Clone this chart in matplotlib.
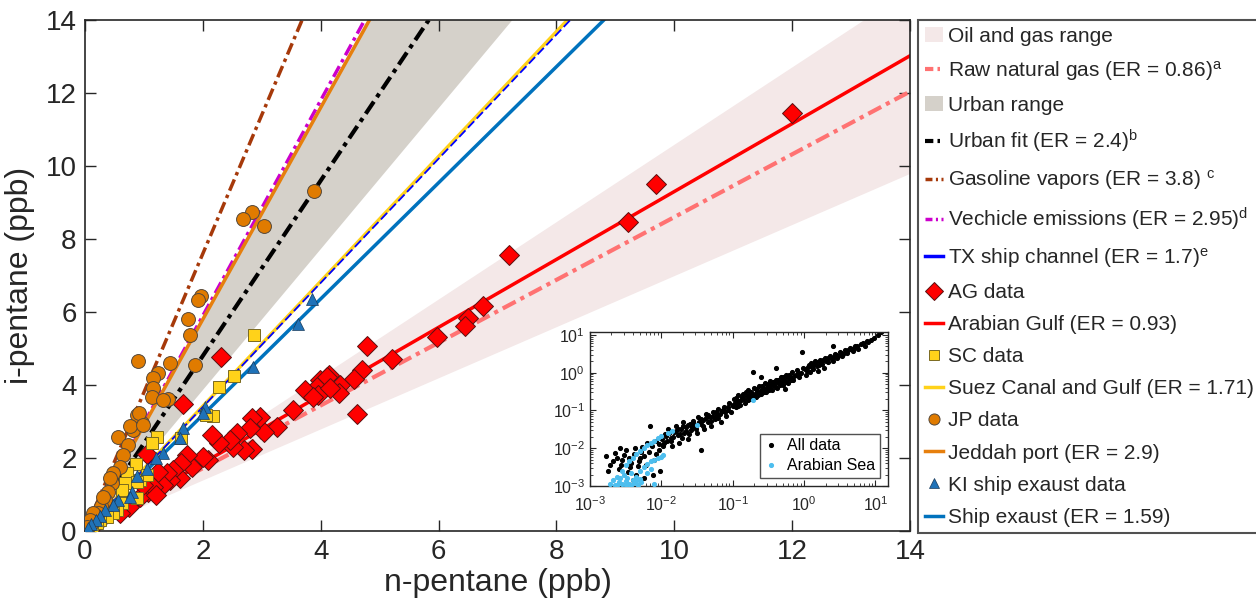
import matplotlib
matplotlib.use('Agg')
import matplotlib.pyplot as plt
import numpy as np
from matplotlib.patches import Patch
from matplotlib.lines import Line2D

plt.rcParams['font.family'] = ['Liberation Sans', 'DejaVu Sans']
plt.rcParams['mathtext.fontset'] = 'custom'
plt.rcParams['mathtext.rm'] = 'Liberation Sans'
plt.rcParams['mathtext.it'] = 'Liberation Sans:italic'

# ---------------- data ----------------
# emission-ratio (slope) lines
er_raw_gas = 0.86
er_urban = 2.4
er_gasoline = 3.8
er_vehicle = 2.95
er_tx_ship = 1.7
er_arabian_gulf = 0.93
er_suez = 1.71
er_jeddah = 2.9
er_ship = 1.59
oil_gas_range = [0.70, 1.06]
urban_range = [1.93, 2.92]

ag_x = [12.0, 9.69, 9.22, 7.2, 6.76, 6.5, 6.45, 5.98, 5.21, 4.79, 4.70, 4.57, 4.62, 4.33, 4.31,
        4.14, 3.99, 3.94, 3.96, 3.74, 3.87, 4.11, 4.16, 3.53, 3.26, 3.03, 2.97, 2.83, 2.80, 2.83,
        2.69, 2.58, 2.51, 2.46, 2.31, 2.28, 2.16, 2.09, 2.0, 1.81, 1.73, 1.66, 1.63, 1.61, 1.49,
        1.44, 1.39, 1.33, 1.24, 1.07, 1.05, 0.93, 0.82, 0.68, 0.55, 0.40, 0.31, 0.20, 0.12, 0.06,
        1.15, 1.20, 0.98, 0.75, 0.60]
ag_y = [11.45, 9.5, 8.47, 7.56, 6.16, 5.84, 5.62, 5.31, 4.71, 5.07, 4.41, 4.16, 3.21, 4.0, 3.78,
        4.27, 4.14, 3.95, 3.73, 3.86, 3.67, 4.22, 3.92, 3.32, 2.85, 2.71, 3.12, 3.10, 2.82, 2.25,
        2.22, 2.68, 2.30, 2.49, 4.77, 2.41, 2.63, 1.94, 2.03, 1.76, 2.08, 3.48, 1.86, 1.45, 1.67,
        1.40, 1.59, 1.26, 1.62, 1.07, 2.11, 0.93, 0.85, 0.72, 0.60, 0.48, 0.38, 0.25, 0.15, 0.07,
        1.20, 1.00, 1.25, 0.65, 0.50]

sc_x = [2.87, 2.53, 2.28, 2.17, 2.05, 1.63, 1.22, 1.14, 0.87, 0.71, 0.93, 0.68, 1.05, 0.88, 0.63,
        0.88, 0.63, 0.54, 0.48, 0.37, 0.25, 0.21, 0.12, 0.05, 0.02]
sc_y = [5.37, 4.25, 3.94, 3.15, 3.18, 2.55, 2.57, 2.41, 1.84, 1.59, 1.40, 1.32, 1.53, 1.34, 1.12,
        0.90, 0.77, 0.58, 0.49, 0.37, 0.30, 0.22, 0.12, 0.06, 0.02]

jp_x = [3.89, 2.84, 2.68, 3.04, 1.97, 1.92, 1.75, 1.78, 1.44, 0.90, 1.87, 1.24, 1.15, 1.15, 1.14,
        1.41, 1.33, 0.97, 0.88, 0.82, 0.92, 0.76, 0.56, 0.73, 0.98, 0.65, 0.59, 0.48, 0.46, 0.39,
        0.34, 0.27, 0.22, 0.17, 0.11, 0.42, 0.31, 0.14, 0.08, 0.04]
jp_y = [9.31, 8.74, 8.55, 8.36, 6.44, 6.33, 5.81, 5.37, 4.60, 4.66, 4.55, 4.32, 4.19, 3.92, 3.68,
        3.61, 3.59, 2.96, 3.18, 2.77, 3.23, 2.88, 2.58, 2.36, 2.90, 2.08, 1.75, 1.59, 1.32, 1.07,
        0.85, 0.69, 0.50, 0.33, 0.19, 1.45, 0.93, 0.50, 0.30, 0.12]

ki_x = [3.85, 3.62, 2.85, 2.04, 2.00, 1.66, 1.61, 1.33, 1.20, 1.05, 0.88, 0.80, 0.76, 0.56, 0.48,
        0.34, 0.25, 0.18, 0.10, 0.05]
ki_y = [6.36, 5.67, 4.49, 3.40, 3.23, 2.82, 2.55, 2.14, 2.00, 1.70, 1.51, 1.07, 0.93, 0.85, 0.71,
        0.58, 0.40, 0.30, 0.20, 0.08]

# inset (log10 of n-pentane, i-pentane)
all_lx = [-2.78, -2.72, -2.65, -2.60, -2.55, -2.50, -2.47, -2.42, -2.38, -2.35, -2.30, -2.27, -2.22,
          -2.18, -2.15, -2.10, -2.07, -2.04, -2.02, -2.00, -2.58, -2.33, -2.12, -2.40, -2.25, -2.16,
          -1.98, -1.95, -1.92, -1.90, -1.87, -1.85, -1.82, -1.80, -1.77, -1.75, -1.72, -1.70, -1.68,
          -1.65, -1.62, -1.60, -1.58, -1.55, -1.52, -1.50, -1.48, -1.45, -1.42, -1.40, -1.38, -1.35,
          -1.32, -1.30, -1.27, -1.25, -1.22, -1.20, -1.17, -1.15, -1.12, -1.10, -1.07, -1.05, -1.03,
          -1.00, -1.45,
          -0.98, -0.96, -0.94, -0.92, -0.90, -0.88, -0.85, -0.83, -0.80, -0.78, -0.76, -0.73, -0.70,
          -0.68, -0.66, -0.63, -0.60, -0.58, -0.55, -0.53, -0.50, -0.48, -0.45, -0.43, -0.40, -0.38,
          -0.35, -0.33, -0.30, -0.28, -0.25, -0.22, -0.20, -0.17, -0.15, -0.12, -0.10, -0.07, -0.05,
          -0.02, -0.71, -0.60, -0.40, -0.27,
          0.02, 0.05, 0.08, 0.10, 0.13, 0.15, 0.18, 0.20, 0.23, 0.25, 0.28, 0.30, 0.33, 0.36, 0.40,
          0.43, 0.46, 0.50, 0.53, 0.57, 0.60, 0.64, 0.68, 0.72, 0.76, 0.80, 0.85, 0.90, 0.98, 1.04,
          1.08, -0.03, 0.40,
          -1.99, -1.96, -1.93, -1.89, -1.86, -1.83, -1.79, -1.76, -1.74, -1.71, -1.69, -1.66, -1.63,
          -1.61, -1.57, -1.54, -1.51, -1.47, -1.44, -1.41, -1.37, -1.34, -1.31, -1.28, -1.24, -1.21,
          -1.18, -1.14, -1.11, -1.06,
          -0.99, -0.97, -0.95, -0.93, -0.91, -0.87, -0.84, -0.82, -0.79, -0.77, -0.74, -0.72, -0.69,
          -0.67, -0.64, -0.62, -0.59, -0.56, -0.54, -0.51, -0.49, -0.46, -0.44, -0.41, -0.39, -0.36,
          -0.34, -0.31, -0.29, -0.26, -0.23, -0.21, -0.18, -0.14, -0.09,
          0.01, 0.04, 0.07, 0.11, 0.14, 0.17, 0.21, 0.24, 0.27, 0.31, 0.34, 0.38, 0.42, 0.45, 0.48,
          0.52, 0.55, 0.59, 0.62, 0.66, 0.70, 0.74, 0.82, 0.88, 0.94,
          -2.75, -2.68, -2.62, -2.56, -2.52, -2.45, -2.44, -2.37, -2.32, -2.28, -2.24, -2.20, -2.13,
          -2.08, -2.03]
all_ly = [-2.20, -2.45, -2.12, -2.55, -2.30, -2.05, -2.62, -2.38, -2.15, -2.70, -2.25, -1.98, -2.45,
          -2.10, -1.90, -2.30, -1.80, -2.05, -2.60, -1.72, -2.00, -2.48, -2.70, -2.85, -2.80, -1.42,
          -1.95, -1.62, -1.80, -1.50, -1.72, -1.95, -1.58, -1.40, -1.66, -1.85, -1.50, -1.30, -1.60,
          -1.45, -1.75, -1.35, -1.52, -1.28, -1.42, -1.60, -1.18, -1.35, -1.25, -1.48, -1.10, -1.30,
          -1.18, -1.40, -1.05, -1.22, -1.12, -0.95, -1.30, -1.02, -0.90, -1.15, -0.98, -0.80, -1.05,
          -0.88, -2.05,
          -0.70, -0.92, -0.78, -0.60, -0.85, -0.72, -0.55, -0.80, -0.62, -0.45, -0.70, -0.58, -0.40,
          -0.65, -0.50, -0.35, -0.55, -0.42, -0.28, -0.50, -0.38, -0.22, -0.45, -0.30, -0.18, -0.40,
          -0.25, -0.10, -0.32, -0.20, -0.05, -0.28, -0.12, 0.02, -0.20, -0.05, 0.08, -0.12, 0.00,
          0.12, 0.03, -0.10, 0.12, -0.42,
          -0.05, 0.15, 0.02, 0.25, 0.10, 0.30, 0.18, 0.05, 0.35, 0.22, 0.12, 0.40, 0.28, 0.45, 0.32,
          0.50, 0.38, 0.55, 0.45, 0.60, 0.52, 0.66, 0.58, 0.70, 0.63, 0.75, 0.72, 0.82, 0.92, 1.00,
          1.08, 0.56, 0.70,
          -1.75, -1.85, -1.68, -1.60, -1.82, -1.70, -1.55, -1.48, -1.62, -1.72, -1.42, -1.55, -1.38,
          -1.62, -1.45, -1.35, -1.50, -1.30, -1.22, -1.40, -1.20, -1.12, -1.28, -1.15, -1.05, -1.20,
          -1.08, -0.98, -1.05, -0.92,
          -0.85, -0.80, -0.68, -0.88, -0.75, -0.65, -0.70, -0.52, -0.72, -0.60, -0.50, -0.66, -0.55,
          -0.44, -0.60, -0.48, -0.36, -0.50, -0.40, -0.30, -0.45, -0.35, -0.24, -0.38, -0.28, -0.18,
          -0.33, -0.22, -0.12, -0.25, -0.15, -0.05, -0.18, -0.08, -0.02,
          0.10, 0.05, 0.20, 0.15, 0.22, 0.28, 0.20, 0.28, 0.35, 0.32, 0.38, 0.40, 0.42, 0.48, 0.45,
          0.52, 0.50, 0.58, 0.60, 0.62, 0.66, 0.72, 0.80, 0.85, 0.88,
          -2.60, -2.35, -2.25, -2.45, -2.18, -2.25, -2.50, -2.00, -2.35, -2.10, -2.20, -1.85, -1.95,
          -2.15, -1.88]

sea_lx = [-2.72, -2.68, -2.65, -2.62, -2.60, -2.58, -2.55, -2.53, -2.50, -2.48, -2.45, -2.43, -2.40,
          -2.38, -2.36, -2.33, -2.30, -2.28, -2.55, -2.62, -2.50, -2.42, -2.35,
          -2.50, -2.45, -2.40, -2.35, -2.30, -2.25, -2.20, -2.15, -2.10, -2.05, -2.00,
          -2.30, -2.25, -2.20, -2.15, -2.10, -2.05, -2.00, -1.97, -2.20, -2.15, -2.11,
          -1.50, -1.85, -0.72, -1.90]
sea_ly = [-2.95, -2.85, -2.98, -2.75, -2.90, -2.80, -2.95, -2.70, -2.88, -2.78, -2.95, -2.65, -2.85,
          -2.92, -2.75, -2.98, -2.82, -2.90, -2.60, -2.98, -2.98, -2.98, -2.88,
          -2.45, -2.35, -2.25, -2.15, -2.08, -2.00, -1.92, -1.85, -1.80, -1.72, -1.68,
          -2.60, -2.50, -2.42, -2.35, -2.30, -2.25, -2.22, -2.18, -2.65, -2.55, -2.94,
          -1.38, -1.55, -0.72, -1.60]

# ---------------- figure ----------------
fig = plt.figure(figsize=(12.56, 6.14), dpi=100)
ax = fig.add_axes([85 / 1256, 1 - 531 / 614, 825 / 1256, 511 / 614])

xs = np.array([0.0, 14.0])
c_dark = '#262626'

ax.fill_between(xs, oil_gas_range[0] * xs, oil_gas_range[1] * xs, color='#F4E8E8', lw=0, zorder=1)
ax.fill_between(xs, urban_range[0] * xs, urban_range[1] * xs, color='#D5D1CA', lw=0, zorder=1)

dd = (3.5, 1.3, 1, 1.3)
ax.plot(xs, er_raw_gas * xs, color='#FF7272', lw=3, dashes=dd, zorder=2)
ax.plot(xs, er_urban * xs, color='black', lw=3, dashes=dd, zorder=2)
ax.plot(xs, er_gasoline * xs, color='#A6390A', lw=2.5, dashes=dd, zorder=2)
ax.plot(xs, er_vehicle * xs, color='#CC00CC', lw=2.5, dashes=dd, zorder=2)
ax.plot(xs, er_jeddah * xs, color='#E67F0D', lw=2.5, zorder=2)
ax.plot(xs, er_suez * xs, color='#FFD21A', lw=2.5, zorder=2)
ax.plot(xs, er_tx_ship * xs, color='#0000FF', lw=1.3, dashes=(5, 2), zorder=2)
ax.plot(xs, er_ship * xs, color='#0072BD', lw=2.5, zorder=2)
ax.plot(xs, er_arabian_gulf * xs, color='#FF0000', lw=2.5, zorder=2)

ax.plot(ag_x, ag_y, ls='none', marker='D', ms=10.5, mfc='#FF0000', mec='#5a1010', mew=0.7, zorder=3)
ax.plot(sc_x, sc_y, ls='none', marker='s', ms=9, mfc='#FFD21A', mec='#7a6a20', mew=0.7, zorder=3)
ax.plot(jp_x, jp_y, ls='none', marker='o', ms=10, mfc='#E07B00', mec='#55483a', mew=0.7, zorder=3)
ax.plot(ki_x, ki_y, ls='none', marker='^', ms=9, mfc='#1F72B8', mec='#1a3a5a', mew=0.5, zorder=3)

ax.set_xlim(0, 14)
ax.set_ylim(0, 14)
ax.set_xticks(range(0, 15, 2))
ax.set_yticks(range(0, 15, 2))
ax.tick_params(direction='in', length=8, width=1, top=True, right=True, labelsize=20,
               colors=c_dark, pad=6)
for s in ax.spines.values():
    s.set_color(c_dark)
    s.set_linewidth(1.2)
ax.set_xlabel('n-pentane (ppb)', fontsize=23, color=c_dark, labelpad=2)
ax.set_ylabel('i-pentane (ppb)', fontsize=23, color=c_dark, labelpad=8)

# legend
ld = (2, 1, 0.6, 1)
handles = [
    Patch(facecolor='#F4E8E8', edgecolor='none'),
    Line2D([], [], color='#FF7272', lw=3, dashes=ld),
    Patch(facecolor='#D5D1CA', edgecolor='none'),
    Line2D([], [], color='black', lw=3, dashes=ld),
    Line2D([], [], color='#A6390A', lw=2.5, dashes=ld),
    Line2D([], [], color='#CC00CC', lw=2.5, dashes=ld),
    Line2D([], [], color='#0000FF', lw=2.5),
    Line2D([], [], ls='none', marker='D', ms=9, mfc='#FF0000', mec='#5a1010', mew=0.7),
    Line2D([], [], color='#FF0000', lw=2.5),
    Line2D([], [], ls='none', marker='s', ms=7, mfc='#FFD21A', mec='#7a6a20', mew=0.7),
    Line2D([], [], color='#FFD21A', lw=2.5),
    Line2D([], [], ls='none', marker='o', ms=8, mfc='#E07B00', mec='#55483a', mew=0.7),
    Line2D([], [], color='#E67F0D', lw=2.5),
    Line2D([], [], ls='none', marker='^', ms=7, mfc='#1F72B8', mec='#1a3a5a', mew=0.5),
    Line2D([], [], color='#0072BD', lw=2.5),
]
labels = [
    'Oil and gas range',
    r'Raw natural gas (ER = 0.86)$^{\mathrm{a}}$',
    'Urban range',
    r'Urban fit (ER = 2.4)$^{\mathrm{b}}$',
    r'Gasoline vapors (ER = 3.8) $^{\mathrm{c}}$',
    r'Vechicle emissions (ER = 2.95)$^{\mathrm{d}}$',
    r'TX ship channel (ER = 1.7)$^{\mathrm{e}}$',
    'AG data',
    'Arabian Gulf (ER = 0.93)',
    'SC data',
    'Suez Canal and Gulf (ER = 1.71)',
    'JP data',
    'Jeddah port (ER = 2.9)',
    'KI ship exaust data',
    'Ship exaust (ER = 1.59)',
]
leg = fig.legend(handles, labels, loc='upper left', bbox_to_anchor=(918 / 1256, 1 - 20 / 614),
                 fontsize=15, frameon=True, fancybox=False, edgecolor=c_dark,
                 handlelength=0.9, handletextpad=0.2, labelspacing=0.63, borderpad=0.32,
                 borderaxespad=0)
leg.get_frame().set_linewidth(1.5)
for t in leg.get_texts():
    t.set_color(c_dark)

# inset
axi = fig.add_axes([590 / 1256, 1 - 486 / 614, 298 / 1256, 154 / 614])
axi.set_xscale('log')
axi.set_yscale('log')
axi.plot(10 ** np.array(all_lx), 10 ** np.array(all_ly), ls='none', marker='o', ms=2.7,
         color='black', label='All data', zorder=2)
axi.plot(10 ** np.array(sea_lx), 10 ** np.array(sea_ly), ls='none', marker='o', ms=2.7,
         color='#4DBEEE', label='Arabian Sea', zorder=3)
axi.set_xlim(1e-3, 15)
axi.set_ylim(1e-3, 12)
axi.set_xticks([1e-3, 1e-2, 1e-1, 1e0, 1e1])
axi.set_yticks([1e-3, 1e-2, 1e-1, 1e0, 1e1])
axi.tick_params(which='both', direction='in', top=True, right=True, colors=c_dark, labelsize=11.5)
axi.tick_params(which='major', length=4)
axi.tick_params(which='minor', length=2)
axi.tick_params(axis='x', which='major', pad=7)
for s in axi.spines.values():
    s.set_color(c_dark)
    s.set_linewidth(1.0)
lg2 = axi.legend(loc='lower right', fontsize=11.5, frameon=True, fancybox=False, edgecolor=c_dark,
                 handlelength=0.8, handletextpad=0.6, borderpad=0.3, labelspacing=0.3,
                 markerscale=1.0)
lg2.get_frame().set_linewidth(1.0)

fig.savefig('out.png', dpi=100)
